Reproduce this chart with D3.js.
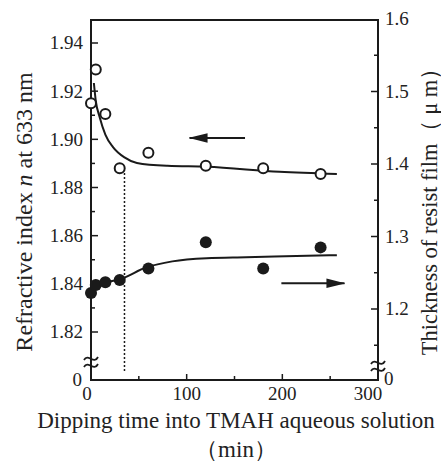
<!DOCTYPE html>
<html>
<head>
<meta charset="utf-8">
<script src="https://cdn.jsdelivr.net/npm/d3@7"></script>
<style>
  html, body { margin: 0; padding: 0; background: #fff; }
  text { font-family: "Liberation Serif", "DejaVu Serif", serif; fill: #222; }
</style>
</head>
<body>
<div id="chart"></div>
<script>
//////////////////////////////////////////////////////////////
//////////////////////////// Data ////////////////////////////
//////////////////////////////////////////////////////////////

//Dipping times (min) of the measured points
var times = [0, 5, 15, 30, 60, 120, 180, 240];
//Refractive index n at 633 nm (open circles, left axis)
var indexValues = [1.915, 1.929, 1.9105, 1.888, 1.8944, 1.889, 1.888, 1.8856];
//Thickness of resist film in um (filled circles, right axis)
var thickValues = [1.222, 1.233, 1.237, 1.240, 1.256, 1.292, 1.256, 1.285];

//Hand drawn fitting curves
var indexCurve = [[3, 1.9234], [5, 1.916], [9, 1.9093], [15, 1.902], [23, 1.8968], [35, 1.8925],
                  [48, 1.8902], [80, 1.889], [121, 1.8886], [197, 1.8865], [257, 1.8856]];
var thickCurve = [[0, 1.218], [2, 1.231], [5, 1.234], [15, 1.237], [30, 1.241], [58, 1.2575],
                  [85, 1.2657], [121, 1.270], [162, 1.2713], [249, 1.274], [257, 1.2742]];

//Tick values
var xTicks = [0, 100, 200, 300];
var xMinor = [50, 150, 250];
var leftTicks = [1.82, 1.84, 1.86, 1.88, 1.90, 1.92, 1.94];
var leftMinor = [1.83, 1.85, 1.87, 1.89, 1.91, 1.93];
var rightTicks = [1.2, 1.3, 1.4, 1.5, 1.6];
var rightMinor = [1.15, 1.25, 1.35, 1.45, 1.55];

//Dotted marker and arrows (data coordinates)
var dottedTime = 35, dottedTop = 1.886;
var leftArrow = {from: 161, to: 103, value: 1.9006};
var rightArrow = {from: 199, to: 265, value: 1.2355};

//////////////////////////////////////////////////////////////
/////////////////////////// Setup ////////////////////////////
//////////////////////////////////////////////////////////////

var width = 441, height = 462;
var plotLeft = 91, plotRight = 378, plotTop = 20, plotBottom = 380;

var svg = d3.select("#chart").append("svg")
	.attr("width", width)
	.attr("height", height);

var x = d3.scaleLinear().domain([0, 300]).range([plotLeft, plotRight]);
var yL = d3.scaleLinear().domain([1.82, 1.94]).range([332, 43]);
var yR = d3.scaleLinear().domain([1.2, 1.6]).range([309, 19]);

var ink = "#1a1a1a";

var defs = svg.append("defs");
defs.append("marker")
	.attr("id", "arrowhead")
	.attr("viewBox", "0 0 20 10")
	.attr("refX", 19).attr("refY", 5)
	.attr("markerWidth", 9.5).attr("markerHeight", 4.8)
	.attr("markerUnits", "strokeWidth")
	.attr("orient", "auto")
	.append("path")
	.attr("d", "M0,0 L20,5 L0,10 z")
	.attr("fill", ink);

//////////////////////////////////////////////////////////////
//////////////////////////// Axes ////////////////////////////
//////////////////////////////////////////////////////////////

//Frame
svg.append("rect")
	.attr("x", plotLeft).attr("y", plotTop)
	.attr("width", plotRight - plotLeft).attr("height", plotBottom - plotTop)
	.attr("fill", "none").attr("stroke", ink).attr("stroke-width", 2);

//Bottom axis, ticks pointing inward
var xAxis = svg.append("g").attr("transform", "translate(0," + plotBottom + ")");
xAxis.selectAll(".major").data(xTicks.slice(1, 3)).enter().append("line")
	.attr("x1", d => x(d)).attr("x2", d => x(d))
	.attr("y1", 0).attr("y2", -6)
	.attr("stroke", ink).attr("stroke-width", 1.5);
xAxis.selectAll(".minor").data(xMinor).enter().append("line")
	.attr("x1", d => x(d)).attr("x2", d => x(d))
	.attr("y1", 0).attr("y2", -4)
	.attr("stroke", ink).attr("stroke-width", 1.5);
xAxis.selectAll(".label").data(xTicks).enter().append("text")
	.attr("x", (d, i) => x(d) - (i === 0 ? 4 : (i === 3 ? 10 : 0)))
	.attr("y", 20)
	.attr("text-anchor", "middle")
	.style("font-size", "19px")
	.text(d => d);

//Left axis
var lAxis = svg.append("g");
lAxis.selectAll(".major").data(leftTicks).enter().append("line")
	.attr("x1", plotLeft).attr("x2", plotLeft + 7)
	.attr("y1", d => yL(d)).attr("y2", d => yL(d))
	.attr("stroke", ink).attr("stroke-width", 1.5);
lAxis.selectAll(".minor").data(leftMinor).enter().append("line")
	.attr("x1", plotLeft).attr("x2", plotLeft + 4)
	.attr("y1", d => yL(d)).attr("y2", d => yL(d))
	.attr("stroke", ink).attr("stroke-width", 1.5);
lAxis.selectAll(".label").data(leftTicks).enter().append("text")
	.attr("x", plotLeft - 8)
	.attr("y", d => yL(d))
	.attr("dy", "0.34em")
	.attr("text-anchor", "end")
	.style("font-size", "19px")
	.text(d => d3.format(".2f")(d));
lAxis.append("text")
	.attr("x", plotLeft - 9).attr("y", plotBottom)
	.attr("dy", "0.34em").attr("text-anchor", "end")
	.style("font-size", "19px").text("0");

//Right axis
var rAxis = svg.append("g");
rAxis.selectAll(".major").data(rightTicks.slice(0, 4)).enter().append("line")
	.attr("x1", plotRight).attr("x2", plotRight - 7)
	.attr("y1", d => yR(d)).attr("y2", d => yR(d))
	.attr("stroke", ink).attr("stroke-width", 1.5);
rAxis.selectAll(".minor").data(rightMinor).enter().append("line")
	.attr("x1", plotRight).attr("x2", plotRight - 4)
	.attr("y1", d => yR(d)).attr("y2", d => yR(d))
	.attr("stroke", ink).attr("stroke-width", 1.5);
rAxis.selectAll(".label").data(rightTicks).enter().append("text")
	.attr("x", plotRight + 7)
	.attr("y", d => yR(d))
	.attr("dy", "0.34em")
	.style("font-size", "19px")
	.text(d => d3.format(".1f")(d));
rAxis.append("text")
	.attr("x", plotRight + 6).attr("y", plotBottom - 1)
	.attr("dy", "0.34em")
	.style("font-size", "19px").text("0");

//Axis breaks (two small squiggles on each vertical axis)
function breakMark(cx, cy) {
	[0, 7].forEach(function(off) {
		svg.append("path")
			.attr("d", "M" + (cx - 7) + "," + (cy + off + 2) +
				" C" + (cx - 3) + "," + (cy + off - 5) + " " + (cx + 3) + "," + (cy + off + 7) +
				" " + (cx + 7) + "," + (cy + off - 1))
			.attr("fill", "none").attr("stroke", ink).attr("stroke-width", 1.8);
	});
}
breakMark(plotLeft, 358);
breakMark(plotRight, 362);

//Axis titles
svg.append("text")
	.attr("transform", "translate(32,212) rotate(-90)")
	.attr("text-anchor", "middle")
	.style("font-size", "24px")
	.html('Refractive index <tspan font-style="italic">n</tspan> at 633 nm');

svg.append("text")
	.attr("transform", "translate(437,206) rotate(-90)")
	.attr("text-anchor", "middle")
	.style("font-size", "22.5px")
	.text("Thickness of resist film（ μ m）");

svg.append("text")
	.attr("x", 236).attr("y", 428)
	.attr("text-anchor", "middle")
	.style("font-size", "23px")
	.text("Dipping time into TMAH aqueous solution");

svg.append("text")
	.attr("x", 236).attr("y", 457)
	.attr("text-anchor", "middle")
	.style("font-size", "23px")
	.text("（min）");

//////////////////////////////////////////////////////////////
//////////////////////////// Marks ///////////////////////////
//////////////////////////////////////////////////////////////

//Dotted marker line
svg.append("line")
	.attr("x1", x(dottedTime)).attr("x2", x(dottedTime))
	.attr("y1", yL(dottedTop)).attr("y2", plotBottom - 7)
	.attr("stroke", ink).attr("stroke-width", 1.5)
	.attr("stroke-dasharray", "2,2");

//Fitting curves
var lineL = d3.line().x(d => x(d[0])).y(d => yL(d[1])).curve(d3.curveMonotoneX);
var lineR = d3.line().x(d => x(d[0])).y(d => yR(d[1])).curve(d3.curveMonotoneX);

svg.append("path").attr("d", lineL(indexCurve))
	.attr("fill", "none").attr("stroke", ink).attr("stroke-width", 2);
svg.append("path").attr("d", lineR(thickCurve))
	.attr("fill", "none").attr("stroke", ink).attr("stroke-width", 2);

//Open circles: refractive index
svg.selectAll(".open").data(times).enter().append("circle")
	.attr("class", "open")
	.attr("cx", d => x(d))
	.attr("cy", (d, i) => yL(indexValues[i]))
	.attr("r", 5)
	.attr("fill", "#fff").attr("stroke", ink).attr("stroke-width", 2);

//Filled circles: thickness
svg.selectAll(".filled").data(times).enter().append("circle")
	.attr("class", "filled")
	.attr("cx", d => x(d))
	.attr("cy", (d, i) => yR(thickValues[i]))
	.attr("r", 6)
	.attr("fill", ink);

//Arrows indicating which axis belongs to which series
svg.append("line")
	.attr("x1", x(leftArrow.from)).attr("x2", x(leftArrow.to))
	.attr("y1", yL(leftArrow.value)).attr("y2", yL(leftArrow.value))
	.attr("stroke", ink).attr("stroke-width", 2)
	.attr("marker-end", "url(#arrowhead)");
svg.append("line")
	.attr("x1", x(rightArrow.from)).attr("x2", x(rightArrow.to))
	.attr("y1", yR(rightArrow.value)).attr("y2", yR(rightArrow.value))
	.attr("stroke", ink).attr("stroke-width", 2)
	.attr("marker-end", "url(#arrowhead)");
</script>
</body>
</html>
